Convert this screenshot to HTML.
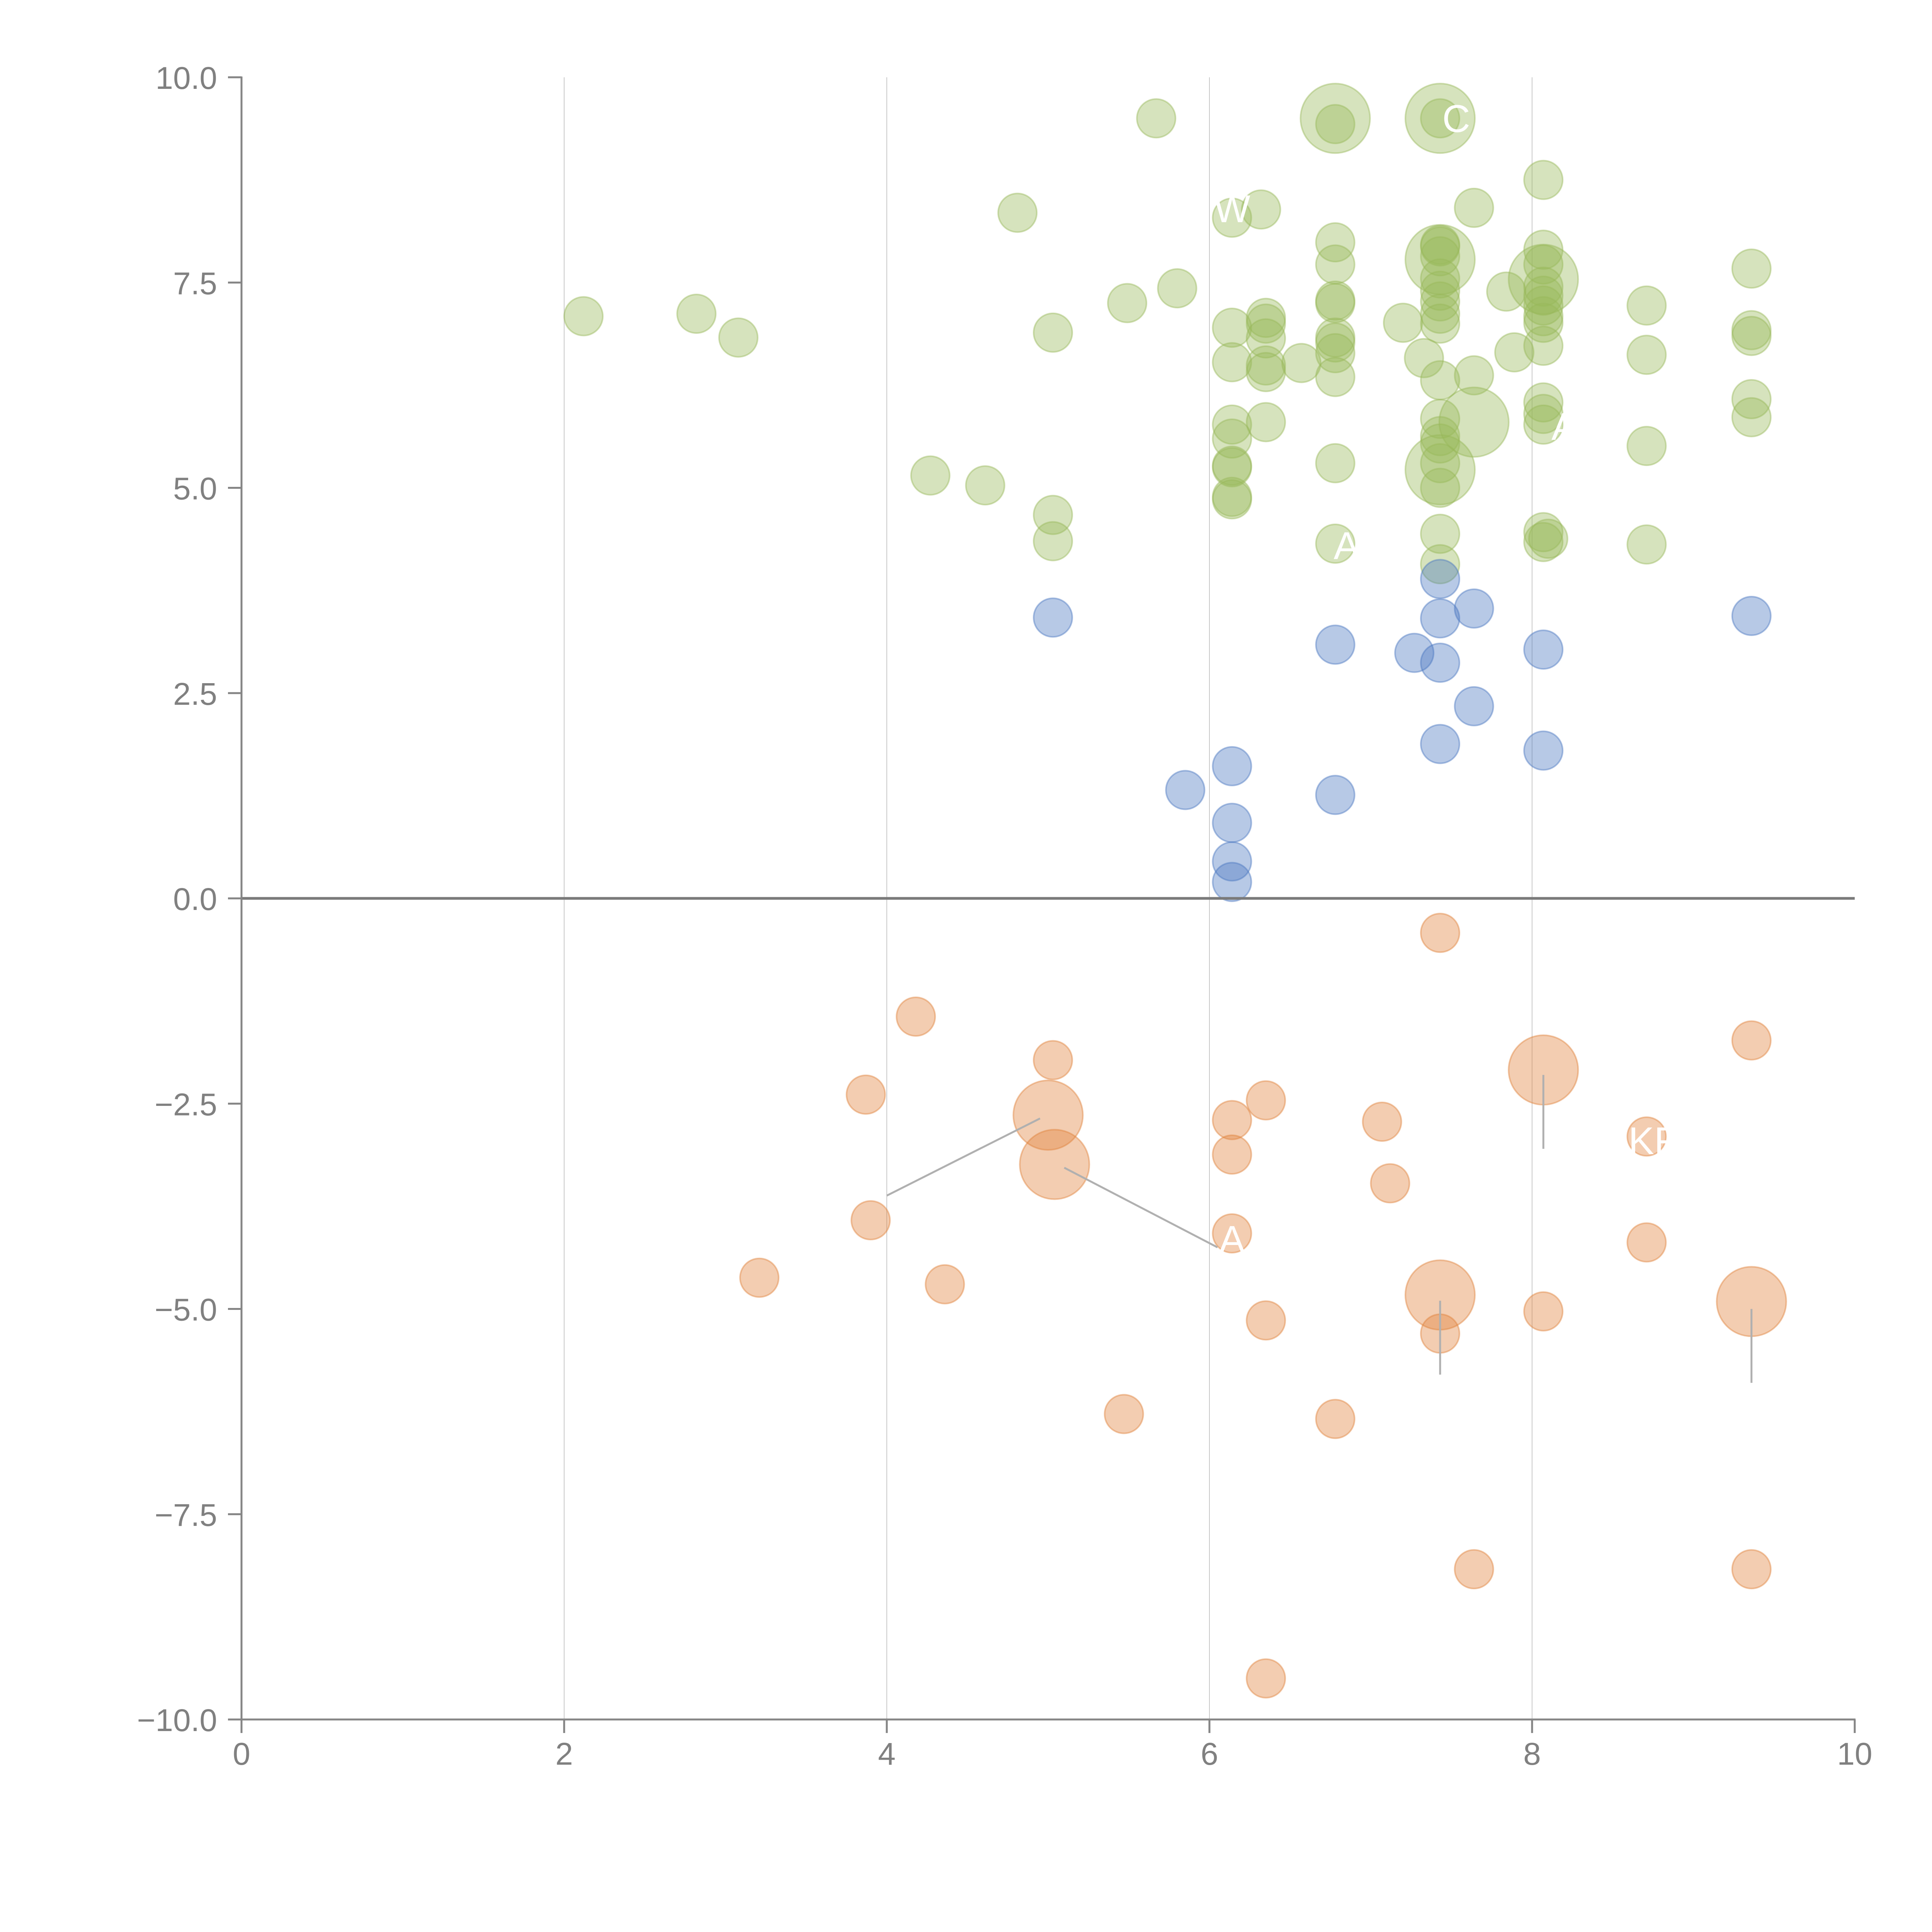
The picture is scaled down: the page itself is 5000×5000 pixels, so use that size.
<!DOCTYPE html>
<html><head><meta charset="utf-8"><style>
html,body{margin:0;padding:0;background:#fff;}
svg{display:block;}
text{font-family:"Liberation Sans",sans-serif;}
</style></head>
<body>
<svg id="chart" width="5000" height="5000" viewBox="0 0 5000 5000" xmlns="http://www.w3.org/2000/svg">
<rect width="5000" height="5000" fill="#fff"/>
<g id="grid"></g>
<g id="marks"></g>
<g id="leaders"></g>
<g id="axes"></g>
</svg>
<script>
const xTicks = [0,2,4,6,8,10];
const yTicks = [10,7.5,5,2.5,0,-2.5,-5,-7.5,-10];
const yTickLabels = ["10.0","7.5","5.0","2.5","0.0","\u22122.5","\u22125.0","\u22127.5","\u221210.0"];
const xTickLabels = ["0","2","4","6","8","10"];

const greenX = [2.12,2.82,3.08,4.27,4.61,4.81,5.03,5.03,5.03,5.49,5.67,5.80,
 6.14,6.14,6.14,6.14,6.14,6.14,6.14,6.14,6.14,6.32,
 6.35,6.35,6.35,6.35,6.35,6.35,6.57,
 6.78,6.78,6.78,6.78,6.78,6.78,6.78,6.78,6.78,6.78,6.78,
 7.20,7.33,
 7.43,7.43,7.43,7.43,7.43,7.43,7.43,7.43,7.43,7.43,7.43,7.43,7.43,7.43,7.43,7.43,7.43,
 7.64,7.64,7.84,7.89,
 8.07,8.07,8.07,8.07,8.07,8.07,8.07,8.07,8.07,8.07,8.07,8.07,8.07,8.07,8.10,
 8.71,8.71,8.71,8.71,9.36,9.36,9.36,9.36,9.36,
 6.78,7.43,7.43,7.43,7.64,8.07];
const greenY = [7.09,7.12,6.83,5.15,5.03,8.35,6.89,4.67,4.35,7.25,9.5,7.43,
 8.29,6.95,6.53,5.77,5.60,5.27,5.25,4.89,4.86,8.39,
 7.07,7.0,6.82,6.49,6.41,5.80,6.52,
 9.43,7.99,7.72,7.28,7.25,6.83,6.77,6.64,6.35,5.30,4.32,
 7.01,6.58,
 9.5,7.96,7.94,7.82,7.55,7.40,7.27,7.12,7.0,6.31,5.84,5.63,5.54,5.30,5.0,4.44,4.07,
 8.41,6.37,7.39,6.65,
 8.75,7.9,7.72,7.45,7.34,7.22,7.09,7.01,6.73,6.04,5.90,5.77,4.46,4.34,4.38,
 7.22,6.62,5.51,4.31,7.67,6.92,6.85,6.08,5.86,
 9.5,9.5,7.78,5.22,5.80,7.54];
const greenSize = new Array(greenX.length-6).fill(1).concat([2,2,2,2,2,2]);

const blueX = [5.03,5.85,6.14,6.14,6.14,6.14,6.78,6.78,7.27,7.43,7.43,7.43,7.43,7.64,7.64,8.07,8.07,9.36];
const blueY = [3.42,1.32,1.61,0.92,0.45,0.20,3.09,1.26,2.99,3.89,3.41,2.87,1.88,3.53,2.34,3.03,1.80,3.44];

const orangeX = [7.43,4.18,5.03,3.87,9.36,6.35,6.14,6.14,7.07,7.12,3.90,3.21,4.36,6.14,6.35,7.43,8.07,8.71,8.71,5.47,6.78,7.64,9.36,6.35,
 5.0,5.04,8.07,7.43,9.36];
const orangeY = [-0.42,-1.44,-1.97,-2.39,-1.73,-2.46,-2.70,-3.12,-2.72,-3.47,-3.92,-4.62,-4.70,-4.08,-5.14,-5.30,-5.03,-2.90,-4.19,-6.28,-6.34,-8.17,-8.17,-9.50,
 -2.64,-3.24,-2.09,-4.83,-4.91];
const orangeSize = new Array(24).fill(1).concat([2,2,2,2,2]);

const X0=625, X1=4800, Y0=200, Y1=4450;
function sx(v){return X0+(v-0)/(10-0)*(X1-X0);}
function sy(v){return Y0+(10-v)/(20)*(Y1-Y0);}
const NS="http://www.w3.org/2000/svg";
function mk(tag,attrs,parent){const e=document.createElementNS(NS,tag);for(const k in attrs)e.setAttribute(k,attrs[k]);parent.appendChild(e);return e;}

const grid=document.getElementById('grid');
[2,4,6,8].forEach(v=>{
  const l=mk('line',{x1:sx(v),x2:sx(v),y1:Y0,y2:Y1,stroke:'#c8c8c8','stroke-width':2},grid);
  
  
});

const marks=document.getElementById('marks');
function drawSeries(xs,ys,sz,color,name){
  xs.forEach((x,i)=>{
    const r = sz && sz[i]===2 ? 90 : 50;
    const c=mk('circle',{cx:sx(x),cy:sy(ys[i]),r:r,fill:color,'fill-opacity':0.4,stroke:color,'stroke-opacity':0.45,'stroke-width':4},marks);
    
    
  });
}
drawSeries(greenX,greenY,greenSize,'rgb(152,185,90)','green-point');
drawSeries(blueX,blueY,null,'rgb(75,120,192)','blue-point');
drawSeries(orangeX,orangeY,orangeSize,'rgb(225,130,60)','orange-point');

const leaders=document.getElementById('leaders');
[[4.0,-3.62,4.95,-2.68],[5.1,-3.28,6.05,-4.25],[8.07,-2.15,8.07,-3.05],[7.43,-4.9,7.43,-5.8],[9.36,-5.0,9.36,-5.9]].forEach(s=>{
  const l=mk('line',{x1:sx(s[0]),y1:sy(s[1]),x2:sx(s[2]),y2:sy(s[3]),stroke:'#b0b0b0','stroke-width':5},leaders);
  
  
});
[[6.14,-4.15,'A'],[8.75,-2.95,'KF'],[7.53,9.5,'C'],[6.14,8.4,'W'],[8.2,5.75,'A'],[6.85,4.3,'A']].forEach(t=>{
  const e=mk('text',{x:sx(t[0]),y:sy(t[1])+35,'font-size':100,fill:'#fff','text-anchor':'middle'},leaders);
  e.textContent=t[2];
  
  
});

const axes=document.getElementById('axes');
let z=mk('line',{x1:X0,x2:X1,y1:sy(0),y2:sy(0),stroke:'#7a7a7a','stroke-width':7},axes);


let ya=mk('line',{x1:X0,x2:X0,y1:Y0-2,y2:Y1+2,stroke:'#858585','stroke-width':5},axes);


let xa=mk('line',{x1:X0-2,x2:X1+2,y1:Y1,y2:Y1,stroke:'#858585','stroke-width':5},axes);


yTicks.forEach((v,i)=>{
  const t=mk('line',{x1:X0-35,x2:X0,y1:sy(v),y2:sy(v),stroke:'#858585','stroke-width':5},axes);
  
  
  const l=mk('text',{x:562,y:sy(v)+30,'font-size':82,fill:'#808080','text-anchor':'end'},axes);
  l.textContent=yTickLabels[i];
  
  
});
xTicks.forEach((v,i)=>{
  const t=mk('line',{x1:sx(v),x2:sx(v),y1:Y1,y2:Y1+35,stroke:'#858585','stroke-width':5},axes);
  
  
  const l=mk('text',{x:sx(v),y:4567,'font-size':82,fill:'#808080','text-anchor':'middle'},axes);
  l.textContent=xTickLabels[i];
  
  
});
</script>
</body></html>
